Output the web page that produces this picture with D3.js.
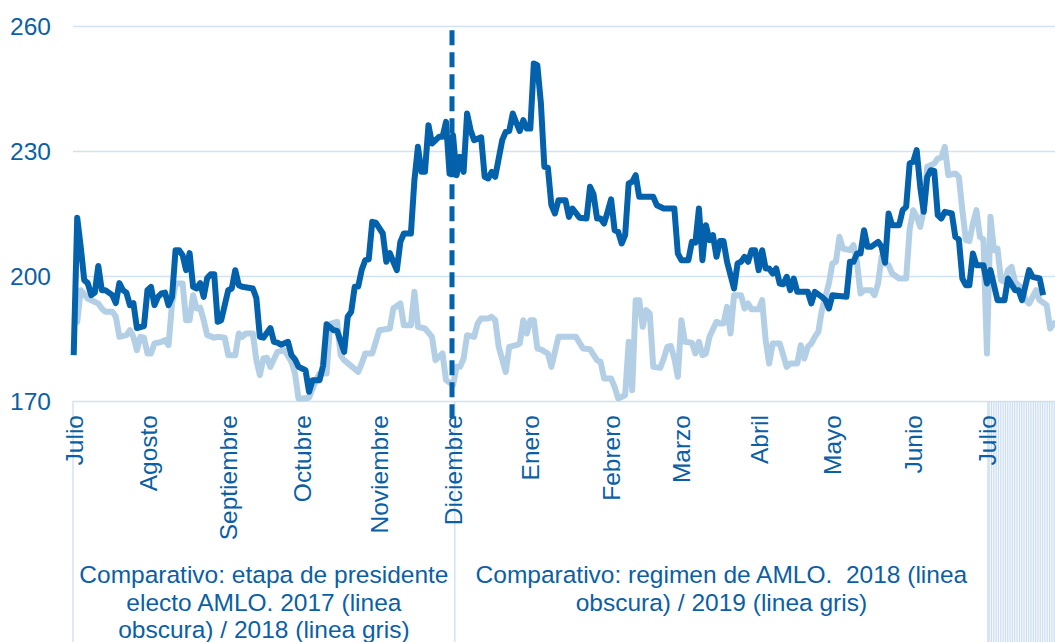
<!DOCTYPE html>
<html lang="es">

<head>
    <meta charset="utf-8">
    <title>Comparativo AMLO</title>
    <script type="text/javascript" src="https://d3js.org/d3.v7.min.js"></script>
    <style>
        body { margin: 0; background: #fff; }
        svg text { font-family: "Liberation Sans", Arial, sans-serif; fill: #0b5fa5; }
    </style>
</head>

<body>
<svg id="chart" width="1055" height="642"></svg>

<script type="text/javascript">
    /* global d3 */

    // y axis ticks
    let yTicks = [170, 200, 230, 260];

    // month labels and the business-day index where each one sits
    let months = ["Julio", "Agosto", "Septiembre", "Octubre", "Noviembre", "Diciembre",
        "Enero", "Febrero", "Marzo", "Abril", "Mayo", "Junio", "Julio"];
    let monthDays = [0, 21, 44, 65, 87, 108, 130, 153, 173, 195, 216, 239, 260];

    // group labels under the months
    let groupLabels = [
        ["Comparativo: etapa de presidente", "electo AMLO. 2017 (linea", "obscura) / 2018 (linea gris)"],
        ["Comparativo: regimen de AMLO.  2018 (linea", "obscura) / 2019 (linea gris)"]
    ];
    let groupBounds = [[-0.2, 108.5], [108.5, 260.3]];
    let markerDay = 107.7;

    // [day, value] - dark line (2017 / 2018)
    let darkPoints = [[0,181],[1,214],[2,207],[3,199],[4,198.3],[5,195.4],[6,196],[7,202.4],[8,196.6],[9,196.6],
        [11,195.4],[12,193.5],[13,198.3],[14,196.6],[15,196],[16,193],[17,193.5],[18,187.5],[20,188],[21,196.6],
        [22,197.4],[23,193],[24,195],[25,195.8],[26,196],[27,193],[28,195],[29,206.2],[30,206.2],[31,205],
        [32,201.4],[33,205.5],[34,197.4],[35,197],[36,198.3],[37,195],[38,199.5],[39,200.4],[40,200.4],[41,189],
        [42,189.4],[44,196.6],[45,197],[46,201.4],[47,197.8],[48,197.4],[51,197],[52,194.7],[53,185.4],[54,185.2],
        [56,187.5],[57,184.2],[58,184],[59,183.5],[61,184.2],[62,181],[63,180],[64,178.2],[66,177.4],[67,172.2],
        [68,175],[70,175],[71,178.5],[72,188.4],[74,187],[75,186.8],[77,181.8],[78,190.2],[79,191.4],[80,197.4],
        [81,197.5],[82,201.5],[83,203.8],[84,204],[85,213],[86,212.8],[88,210.2],[89,203.4],[90,205.5],[91,203.4],
        [92,201.4],[93,208.2],[94,210.2],[96,210.2],[97,223],[98,231],[99,225],[100,225],[101,236.2],[102,231.8],
        [104,233.4],[105,233.4],[106,237],[107,224.6],[108,233.8],[109,224.2],[110,228.6],[111,225],[112,239],[113,235],
        [114,232.6],[116,233.3],[117,223.8],[118,223.4],[119,225],[120,223.8],[122,232.6],[123,234.6],[124,234.8],[125,239],
        [126,236.8],[127,234.8],[128,237.4],[129,235.4],[130,235.4],[131,251],[132,250.6],[133,241.6],[134,226.2],[135,226],
        [136,217],[137,215],[138,218.2],[140,218.2],[141,214.2],[142,216.2],[144,214],[146,213.8],[147,221.4],[148,219.6],
        [149,213.8],[150,213.8],[151,212.6],[152,215.4],[153,218.4],[154,211],[155,210.6],[156,207.8],[157,209.8],[158,222.2],
        [159,222.6],[160,224.2],[161,219],[163,219],[165,219],[166,217],[168,216.2],[171,216.2],[172,205.4],[173,203.8],
        [175,203.8],[176,208.2],[177,208],[178,216.2],[179,203.8],[180,212.2],[181,208.6],[182,209.8],[183,204.6],[184,208.4],
        [185,208.4],[186,203.4],[188,197],[189,203],[190,203.4],[191,204.6],[192,203.4],[193,206.2],[194,206.2],[195,201.4],
        [196,206.2],[197,201.8],[198,201.8],[199,200.6],[200,201.8],[201,198.2],[202,198],[203,199.8],[204,196.6],[205,199.4],
        [206,196.2],[209,196.2],[210,193.4],[211,196.2],[213,195],[214,194.2],[215,192.2],[216,195.4],[220,195],[221,203.4],
        [222,203.4],[223,205.4],[224,205.4],[225,211],[226,207],[227,207],[229,208.2],[230,207],[231,203.2],[232,215],
        [233,212.2],[235,212.2],[236,215.8],[237,216.6],[238,227],[239,227.4],[240,230.2],[241,221.4],[242,215.4],[243,223.8],
        [244,225.4],[245,225.2],[246,214.6],[247,213.8],[248,215.4],[250,215],[251,209.4],[252,208.8],[253,199.4],[254,197.8],
        [255,197.8],[256,205.4],[257,202.6],[259,202.6],[260,198.2],[261,201.4],[263,194.2],[265,194.2],[266,199.4],[268,196.6],
        [269,196.6],[270,194.2],[272,201.4],[273,199.8],[275,199.4],[276,195.4]];

    // [day, value] - light line (2018 / 2019)
    let lightPoints = [[0,190],[1,189],[2,196.6],[4,194.6],[5,194.2],[7,193.4],[8,192.2],[9,191.4],[11,191.4],[12,190.2],
        [13,185.4],[15,185.8],[16,187],[17,185.4],[18,182.2],[19,185.4],[20,185.2],[21,181.4],[22,181.4],[23,183.8],
        [25,184.2],[26,184.6],[27,183.4],[28,193.4],[29,198.2],[31,198.2],[32,189.4],[33,189.4],[34,195.4],[35,192.2],
        [36,192.4],[37,189.4],[38,185.8],[40,185.2],[41,185.4],[43,185.2],[44,181],[46,181],[47,186.2],[48,185.4],
        [49,186.2],[51,186.2],[52,179.8],[53,176.2],[54,180.2],[55,180.4],[56,178.2],[58,181.8],[60,182.2],[62,179.4],
        [63,176.6],[64,170.6],[65,170.6],[67,170.8],[69,175],[70,176.6],[72,176.6],[73,188.5],[75,189],[76,181],
        [77,179.8],[81,177],[82,179],[83,181.4],[85,181.4],[87,187],[90,187.4],[91,192.2],[93,193.4],[94,188.2],
        [96,188.2],[97,196.2],[98,187.8],[100,187.4],[102,185.4],[103,179.8],[105,181.4],[106,175],[108,173.8],[109,178.2],
        [110,178.2],[111,180.2],[112,185.8],[114,185.4],[115,188.6],[116,189.8],[118,189.8],[119,190.2],[120,189.4],[121,183],
        [123,177],[124,183],[126,183.4],[127,183.8],[128,189.4],[129,186.2],[130,189.4],[131,189.4],[132,182.6],[133,182.4],
        [135,181.4],[136,178.2],[138,185.4],[143,185.4],[145,182.6],[147,182.4],[149,179.8],[150,179.4],[151,175.4],[153,175.4],
        [154,173.4],[155,170.6],[157,171.4],[158,184.2],[159,172.6],[160,194.2],[161,194.2],[162,187.8],[163,191.8],[164,191],
        [165,178.2],[167,178],[168,180.2],[169,183],[170,183.2],[171,180.2],[172,175.8],[173,189.4],[174,184.2],[176,184],
        [177,181.4],[178,184.2],[179,181],[180,181.4],[181,185.4],[183,189],[184,188.6],[185,188.6],[186,192.6],[187,186.2],
        [188,195.4],[190,195.4],[191,192.2],[192,193.4],[193,192],[195,192],[196,194.2],[197,184.6],[198,179],[199,183.8],
        [201,183.8],[202,181],[203,178.2],[204,179],[206,179],[207,183.4],[208,180.2],[209,183],[210,183.8],[211,185.4],
        [212,186.6],[213,191.8],[215,198.2],[216,203],[217,203.4],[218,209.4],[219,206.6],[221,206.2],[222,207.4],[223,203.4],
        [224,195.8],[225,196.6],[227,196.6],[228,195.4],[229,198.2],[230,204.6],[231,203],[232,202.6],[233,200.6],[235,199.4],
        [237,199.4],[238,211.2],[239,215.8],[240,214.2],[241,211.8],[242,215.8],[243,226.2],[245,227],[246,228.2],[247,228.4],
        [248,231],[249,224.2],[251,224.6],[252,223.8],[253,215.8],[254,208.6],[255,208.4],[256,212.6],[257,215.8],[258,209.4],
        [259,208.8],[260,181.4],[261,214.2],[262,206.2],[263,206.6],[264,199],[265,198.6],[266,201.4],[267,202.2],[268,198.6],
        [270,197],[271,194.2],[272,193.4],[274,196.6],[275,194.2],[277,193],[278,187.4],[279,188.6],[281,189]];

    // basic parameters
    let W = 1055, H = 642;
    let darkBlue = "#0461ab";
    let lightBlue = "#b3cfe6";
    let gridColor = "#d3e2f0";
    let fontSize = "24.5px";

    let x = d3.scaleLinear().domain([-0.2, 260.3]).range([73, 988]);
    let y = d3.scaleLinear().domain([170, 260]).range([401, 26]);
    let svg = d3.select("#chart");

    // y axis with gridlines
    let yAxis = d3.axisLeft(y)
        .tickValues(yTicks)
        .tickSize(-(W - x(-0.2)))
        .tickPadding(22);
    let yGroup = svg.append("g")
        .attr("transform", "translate(" + x(-0.2) + ",0)")
        .call(yAxis);
    yGroup.select(".domain").remove();
    yGroup.selectAll(".tick line")
        .attr("stroke", gridColor)
        .attr("stroke-width", 1.5);
    yGroup.selectAll(".tick text")
        .style("font-size", fontSize)
        .attr("dy", "0.35em");

    // hatched area after the last group (dense category separators)
    svg.append("g").selectAll("line")
        .data(d3.range(260.3, 290, 0.5))
        .enter().append("line")
        .attr("x1", d => x(d)).attr("x2", d => x(d))
        .attr("y1", y(170)).attr("y2", H)
        .attr("stroke", "#cadcef")
        .attr("stroke-width", 1);

    // group separators
    svg.append("g").selectAll("line")
        .data([groupBounds[0][0], groupBounds[0][1], groupBounds[1][1]])
        .enter().append("line")
        .attr("x1", d => x(d)).attr("x2", d => x(d))
        .attr("y1", y(170)).attr("y2", H)
        .attr("stroke", gridColor)
        .attr("stroke-width", 1.5);

    // month labels
    let xAxis = d3.axisBottom(x)
        .tickValues(monthDays)
        .tickFormat((d, i) => months[i])
        .tickSize(0);
    let xGroup = svg.append("g")
        .attr("transform", "translate(0," + y(170) + ")")
        .call(xAxis);
    xGroup.select(".domain").remove();
    xGroup.selectAll(".tick text")
        .style("font-size", fontSize)
        .style("text-anchor", "end")
        .attr("transform", "rotate(-90)")
        .attr("x", -14)
        .attr("y", 0)
        .attr("dy", "0.35em");

    // group labels
    groupLabels.forEach(function (lines, i) {
        let cx = (x(groupBounds[i][0]) + x(groupBounds[i][1])) / 2;
        let t = svg.append("text")
            .attr("text-anchor", "middle")
            .style("font-size", fontSize)
            .style("white-space", "pre");
        lines.forEach(function (line, j) {
            t.append("tspan")
                .attr("x", cx)
                .attr("y", 583 + j * 27.5)
                .text(line);
        });
    });

    // series
    let line = d3.line()
        .x(d => x(d[0]))
        .y(d => y(d[1]));

    svg.append("path")
        .datum(lightPoints)
        .attr("d", line)
        .attr("fill", "none")
        .attr("stroke", lightBlue)
        .attr("stroke-width", 6)
        .attr("stroke-linejoin", "round");

    svg.append("path")
        .datum(darkPoints)
        .attr("d", line)
        .attr("fill", "none")
        .attr("stroke", darkBlue)
        .attr("stroke-width", 6)
        .attr("stroke-linejoin", "round");

    // dashed marker at the change of government
    svg.append("line")
        .attr("x1", x(markerDay)).attr("x2", x(markerDay))
        .attr("y1", y(259)).attr("y2", y(170) + 17)
        .attr("stroke", darkBlue)
        .attr("stroke-width", 5)
        .attr("stroke-dasharray", "15,7");
</script>
</body>

</html>
